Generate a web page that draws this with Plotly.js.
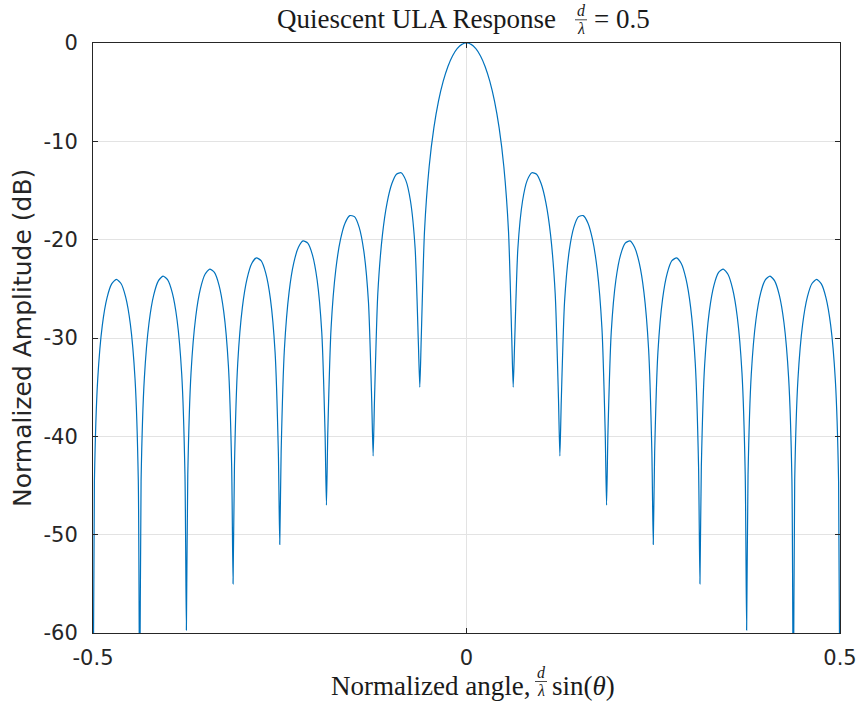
<!DOCTYPE html>
<html>
<head>
<meta charset="utf-8">
<script src="https://cdn.plot.ly/plotly-3.0.1.min.js"></script>
<style>html,body{margin:0;padding:0;background:#fff;}#chart{width:861px;height:711px;}</style>
</head>
<body>
<div id="chart"></div>
<script>
// Normalized angle (d/lambda * sin(theta))
const angle = [
  -0.5,
  -0.498125, -0.49375, -0.4875, -0.48125, -0.475, -0.46875, -0.4625, -0.45625, -0.45, -0.44375, -0.439375, -0.4375,
  -0.435625, -0.43125, -0.425, -0.41875, -0.4125, -0.40625, -0.4, -0.39375, -0.3875, -0.38125, -0.376875, -0.375,
  -0.373125, -0.36875, -0.3625, -0.35625, -0.35, -0.34375, -0.3375, -0.33125, -0.325, -0.31875, -0.314375, -0.3125,
  -0.310625, -0.30625, -0.3, -0.29375, -0.2875, -0.28125, -0.275, -0.26875, -0.2625, -0.25625, -0.251875, -0.25,
  -0.248125, -0.24375, -0.2375, -0.23125, -0.225, -0.21875, -0.2125, -0.20625, -0.2, -0.19375, -0.189375, -0.1875,
  -0.185625, -0.18125, -0.175, -0.16875, -0.1625, -0.15625, -0.15, -0.14375, -0.1375, -0.13125, -0.126875, -0.125,
  -0.123125, -0.11875, -0.1125, -0.10625, -0.1, -0.09375, -0.0875, -0.08125, -0.075, -0.06875, -0.064375, -0.0625,
  -0.060625, -0.05625, -0.05, -0.04375, -0.0375, -0.03125, -0.025, -0.01875, -0.0125, -0.00625, 0,
  0.00625, 0.0125, 0.01875, 0.025, 0.03125, 0.0375, 0.04375, 0.05, 0.05625, 0.060625, 0.0625,
  0.064375, 0.06875, 0.075, 0.08125, 0.0875, 0.09375, 0.1, 0.10625, 0.1125, 0.11875, 0.123125, 0.125,
  0.126875, 0.13125, 0.1375, 0.14375, 0.15, 0.15625, 0.1625, 0.16875, 0.175, 0.18125, 0.185625, 0.1875,
  0.189375, 0.19375, 0.2, 0.20625, 0.2125, 0.21875, 0.225, 0.23125, 0.2375, 0.24375, 0.248125, 0.25,
  0.251875, 0.25625, 0.2625, 0.26875, 0.275, 0.28125, 0.2875, 0.29375, 0.3, 0.30625, 0.310625, 0.3125,
  0.314375, 0.31875, 0.325, 0.33125, 0.3375, 0.34375, 0.35, 0.35625, 0.3625, 0.36875, 0.373125, 0.375,
  0.376875, 0.38125, 0.3875, 0.39375, 0.4, 0.40625, 0.4125, 0.41875, 0.425, 0.43125, 0.435625, 0.4375,
  0.439375, 0.44375, 0.45, 0.45625, 0.4625, 0.46875, 0.475, 0.48125, 0.4875, 0.49375, 0.498125, 0.5
];
// Normalized amplitude in dB
const amplitudeDb = [
  -70,
  -44.61, -34.28, -28.69, -25.91, -24.49, -24.04, -24.46, -25.84, -28.59, -34.15, -44.45, -70,
  -44.43, -34.08, -28.45, -25.64, -24.19, -23.70, -24.08, -25.43, -28.14, -33.66, -43.94, -59.7,
  -43.90, -33.52, -27.86, -25.01, -23.52, -22.99, -23.33, -24.64, -27.31, -32.79, -43.04, -55,
  -42.97, -32.56, -26.86, -23.96, -22.42, -21.85, -22.14, -23.40, -26.02, -31.44, -41.65, -51,
  -41.55, -31.10, -25.33, -22.37, -20.77, -20.13, -20.35, -21.54, -24.08, -29.43, -39.58, -47,
  -39.43, -28.92, -23.06, -20.00, -18.30, -17.55, -17.66, -18.72, -21.14, -26.34, -36.39, -42,
  -36.14, -25.52, -19.49, -16.23, -14.32, -13.34, -13.19, -13.97, -16.07, -20.90, -30.67, -35,
  -30.15, -19.18, -12.59, -8.66, -5.92, -3.91, -2.41, -1.32, -0.58, -0.14, 0,
  -0.14, -0.58, -1.32, -2.41, -3.91, -5.92, -8.66, -12.59, -19.18, -30.15, -35,
  -30.67, -20.90, -16.07, -13.97, -13.19, -13.34, -14.32, -16.23, -19.49, -25.52, -36.14, -42,
  -36.39, -26.34, -21.14, -18.72, -17.66, -17.55, -18.30, -20.00, -23.06, -28.92, -39.43, -47,
  -39.58, -29.43, -24.08, -21.54, -20.35, -20.13, -20.77, -22.37, -25.33, -31.10, -41.55, -51,
  -41.65, -31.44, -26.02, -23.40, -22.14, -21.85, -22.42, -23.96, -26.86, -32.56, -42.97, -55,
  -43.04, -32.79, -27.31, -24.64, -23.33, -22.99, -23.52, -25.01, -27.86, -33.52, -43.90, -59.7,
  -43.94, -33.66, -28.14, -25.43, -24.08, -23.70, -24.19, -25.64, -28.45, -34.08, -44.43, -70,
  -44.45, -34.15, -28.59, -25.84, -24.46, -24.04, -24.49, -25.91, -28.69, -34.28, -44.61, -70
];
const xTickVals = [-0.5, 0, 0.5];
const xTickText = ['-0.5', '0', '0.5'];
const yTickVals = [-60, -50, -40, -30, -20, -10, 0];
const yTickText = ['-60', '-50', '-40', '-30', '-20', '-10', '0'];

const W = 861, H = 711, L = 93, R = 21, T = 43, B = 78;
const pw = W - L - R, ph = H - T - B;
const px = v => (v - L) / pw;
const py = v => (H - B - v) / ph;

const serif = 'Liberation Serif, Times New Roman, serif';
const ink = '#262626';

const trace = {
  x: angle, y: amplitudeDb, type: 'scatter', mode: 'lines',
  line: {color: '#0072BD', width: 1.2, shape: 'spline', smoothing: 0.6}, hoverinfo: 'skip'
};

const axisCommon = {
  showline: true, mirror: 'ticks', linecolor: ink, linewidth: 1,
  ticks: 'inside', ticklen: 5, tickwidth: 1, tickcolor: ink,
  showgrid: true, gridcolor: '#e3e3e3', gridwidth: 1, zeroline: false,
  tickfont: {family: 'DejaVu Sans', size: 21, color: ink},
  fixedrange: true
};

function ann(text, x, y, xanchor, size, extra) {
  return Object.assign({
    text: text, xref: 'paper', yref: 'paper', x: px(x), y: py(y),
    xanchor: xanchor, yanchor: 'middle', showarrow: false,
    font: {family: serif, size: size, color: '#1a1a1a'}
  }, extra || {});
}

const layout = {
  width: W, height: H,
  margin: {l: L, r: R, t: T, b: B, pad: 0},
  paper_bgcolor: '#ffffff', plot_bgcolor: '#ffffff',
  showlegend: false,
  xaxis: Object.assign({}, axisCommon, {
    range: [-0.5, 0.5], tickmode: 'array', tickvals: xTickVals, ticktext: xTickText,
    ticklabelstandoff: 6
  }),
  yaxis: Object.assign({}, axisCommon, {
    range: [-60, 0], tickmode: 'array', tickvals: yTickVals, ticktext: yTickText,
    ticklabelstandoff: 10
  }),
  annotations: [
    // title
    ann('Quiescent ULA Response', 558, 18.9, 'right', 27),
    ann('<i>d</i>', 581, 10.4, 'center', 16),
    ann('<i>λ</i>', 581, 28.8, 'center', 16),
    ann('= 0.5', 592, 18.9, 'left', 27),
    // x-axis label
    ann('Normalized angle,', 532, 686, 'right', 27),
    ann('<i>d</i>', 541, 672.4, 'center', 16),
    ann('<i>λ</i>', 541, 690.2, 'center', 16),
    ann('sin(<i>θ</i>)', 550, 686, 'left', 27),
    // y-axis label
    {text: 'Normalized Amplitude (dB)', xref: 'paper', yref: 'paper', x: px(22), y: 0.5,
     xanchor: 'center', yanchor: 'middle', showarrow: false, textangle: -90,
     font: {family: 'DejaVu Sans', size: 25, color: ink}}
  ],
  shapes: [
    {type: 'line', xref: 'paper', yref: 'paper', x0: px(575), x1: px(587), y0: py(19.8), y1: py(19.8),
     line: {color: '#1a1a1a', width: 0.8}},
    {type: 'line', xref: 'paper', yref: 'paper', x0: px(535), x1: px(547), y0: py(681.5), y1: py(681.5),
     line: {color: '#1a1a1a', width: 0.8}}
  ]
};

Plotly.newPlot('chart', [trace], layout, {displayModeBar: false, staticPlot: true});
</script>
</body>
</html>
